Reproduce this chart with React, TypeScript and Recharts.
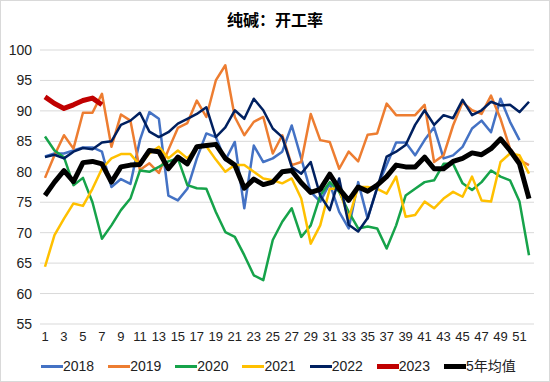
import { CartesianGrid, Line, LineChart, XAxis, YAxis } from "recharts";

const weeks = [
  1, 2, 3, 4, 5, 6, 7, 8, 9, 10, 11, 12, 13, 14, 15, 16, 17, 18, 19, 20, 21, 22, 23, 24, 25, 26,
  27, 28, 29, 30, 31, 32, 33, 34, 35, 36, 37, 38, 39, 40, 41, 42, 43, 44, 45, 46, 47, 48, 49, 50, 51, 52,
];

const y2018 = [
  82.5, 83.0, 83.0, 83.5, 84.0, 84.0, 83.3, 77.5, 78.8, 78.0, 85.2, 89.8, 88.7, 76.1, 75.3, 77.2, 82.2,
  86.3, 85.7, 81.9, 84.9, 74.0, 84.3, 81.6, 82.2, 83.3, 87.6, 82.2, 76.7, 75.1, 78.1, 73.4, 70.7, 78.3,
  72.3, 77.5, 81.1, 84.8, 84.8, 82.7, 85.2, 87.3, 82.2, 82.7, 84.1, 87.1, 88.4, 86.5, 92.0, 88.2, 85.2, null,
];
const y2019 = [
  79.0, 82.7, 86.0, 83.8, 89.7, 89.7, 92.8, 84.1, 89.4, 88.4, 80.3, 81.4, 79.8, 83.6, 87.2, 88.0, 91.7,
  89.0, 95.0, 97.5, 89.0, 86.0, 88.2, 89.0, 83.0, 86.0, 81.1, 81.6, 89.5, 85.2, 84.9, 80.5, 83.3, 81.7,
  86.1, 86.3, 91.2, 89.3, 89.3, 89.3, 91.0, 81.6, 82.7, 87.6, 91.4, 90.1, 89.5, 92.5, 88.7, 83.8, 81.9, 81.1,
];
const y2020 = [
  85.8, 83.5, 82.4, 77.8, 79.0, 75.0, 69.0, 71.2, 73.7, 75.6, 80.2, 80.0, 80.8, 81.7, 82.2, 77.8, 77.3,
  77.2, 73.4, 70.1, 69.3, 66.3, 63.0, 62.2, 68.8, 71.8, 74.0, 69.3, 71.2, 76.1, 78.3, 76.7, 73.4, 70.7,
  71.0, 70.7, 67.4, 71.2, 76.1, 77.2, 78.3, 78.6, 81.3, 81.3, 78.1, 77.0, 78.3, 80.2, 79.2, 78.6, 75.1, 66.3,
];
const y2021 = [
  64.4, 69.6, 72.3, 74.8, 74.4, 77.2, 80.5, 82.2, 82.9, 82.9, 81.1, 83.0, 84.1, 82.2, 83.5, 82.2, 84.0,
  84.2, 82.0, 80.0, 81.1, 81.1, 80.0, 78.9, 78.6, 78.1, 78.9, 75.6, 68.2, 71.2, 77.2, 77.2, 72.3, 77.5,
  77.5, 77.2, 76.4, 79.2, 72.6, 72.9, 75.1, 74.0, 75.6, 76.7, 75.9, 79.2, 75.3, 75.1, 81.6, 83.0, 82.7, 79.7,
];
const y2022 = [
  82.4, 82.8, 82.2, 83.3, 83.9, 83.7, 84.8, 85.0, 87.7, 88.4, 89.7, 86.6, 85.7, 86.5, 87.9, 88.7, 89.5,
  90.6, 85.7, 87.3, 90.1, 88.7, 92.0, 90.1, 87.1, 85.7, 80.8, 79.7, 81.6, 76.1, 73.7, 78.9, 71.3, 70.2,
  72.4, 77.3, 82.5, 83.3, 84.4, 87.7, 90.1, 87.7, 89.3, 88.8, 91.8, 89.3, 90.1, 91.5, 90.9, 91.0, 89.8, 91.5,
];
const y2023 = [92.3, 91.2, 90.4, 91.0, 91.7, 92.1, 91.0];
const avg5 = [
  76.1, 78.3, 80.2, 78.4, 81.5, 81.7, 81.3, 78.3, 80.8, 81.1, 81.2, 83.5, 83.3, 80.5, 82.4, 81.3, 84.1,
  84.3, 84.5, 82.2, 81.1, 77.3, 78.8, 77.9, 78.3, 80.0, 80.2, 78.2, 76.6, 77.1, 79.6, 77.2, 75.3, 77.5,
  76.8, 77.8, 79.2, 81.1, 80.8, 80.8, 82.4, 80.5, 80.5, 81.7, 82.2, 83.1, 82.8, 83.8, 85.4, 83.5, 81.3, 75.6,
];

const yTicks = [55, 60, 65, 70, 75, 80, 85, 90, 95, 100];

const series = [
  { key: "2018", values: y2018, color: "#4472C4", width: 2.5 },
  { key: "2019", values: y2019, color: "#ED7D31", width: 2.5 },
  { key: "2020", values: y2020, color: "#16A34A", width: 2.5 },
  { key: "2021", values: y2021, color: "#FFC000", width: 2.5 },
  { key: "2022", values: y2022, color: "#002060", width: 2.5 },
  { key: "2023", values: y2023, color: "#C00000", width: 5 },
  { key: "5年均值", values: avg5, color: "#000000", width: 5 },
];

const data = weeks.map((w, i) => {
  const row: Record<string, number | null> = { week: w };
  series.forEach((s) => {
    row[s.key] = s.values[i] ?? null;
  });
  return row;
});

const font = '"Liberation Sans", "Noto Sans CJK SC", sans-serif';

export default function App() {
  return (
    <div
      style={{
        position: "absolute",
        left: 0,
        top: 0,
        width: 550,
        height: 382,
        boxSizing: "border-box",
        border: "1px solid #d9d9d9",
        background: "#fff",
        fontFamily: font,
      }}
    >
      <div
        style={{
          position: "absolute",
          top: 9,
          width: "100%",
          textAlign: "center",
          fontSize: 16,
          fontWeight: "bold",
          color: "#000",
          lineHeight: "22px",
        }}
      >
        纯碱：开工率
      </div>
      <LineChart
        width={550}
        height={382}
        data={data}
        margin={{ top: 50, right: 16, left: 0, bottom: 38 }}
        style={{ position: "absolute", left: -1, top: -1 }}
      >
        <CartesianGrid stroke="#d9d9d9" vertical={false} />
        <XAxis
          dataKey="week"
          interval={1}
          tickLine={false}
          axisLine={false}
          height={20}
          padding={{ left: 5, right: 5 }}
          tick={{ fontSize: 13, fill: "#222", fontFamily: font }}
        />
        <YAxis
          domain={[55, 100]}
          ticks={yTicks}
          width={40}
          tickLine={false}
          axisLine={false}
          tick={{ fontSize: 14, fill: "#222", fontFamily: font }}
        />
        {series.map((s) => (
          <Line
            key={s.key}
            dataKey={s.key}
            type="linear"
            stroke={s.color}
            strokeWidth={s.width}
            dot={false}
            strokeLinejoin="round"
            isAnimationActive={false}
          />
        ))}
      </LineChart>
      <div
        style={{
          position: "absolute",
          left: 40,
          top: 355,
          display: "flex",
          gap: 14,
          fontSize: 14,
          color: "#222",
          lineHeight: "20px",
        }}
      >
        {series.map((s) => (
          <div key={s.key} style={{ display: "flex", alignItems: "center" }}>
            <span
              style={{
                display: "inline-block",
                width: 22,
                height: s.width > 3 ? 5 : 3,
                background: s.color,
              }}
            />
            <span>{s.key}</span>
          </div>
        ))}
      </div>
    </div>
  );
}
